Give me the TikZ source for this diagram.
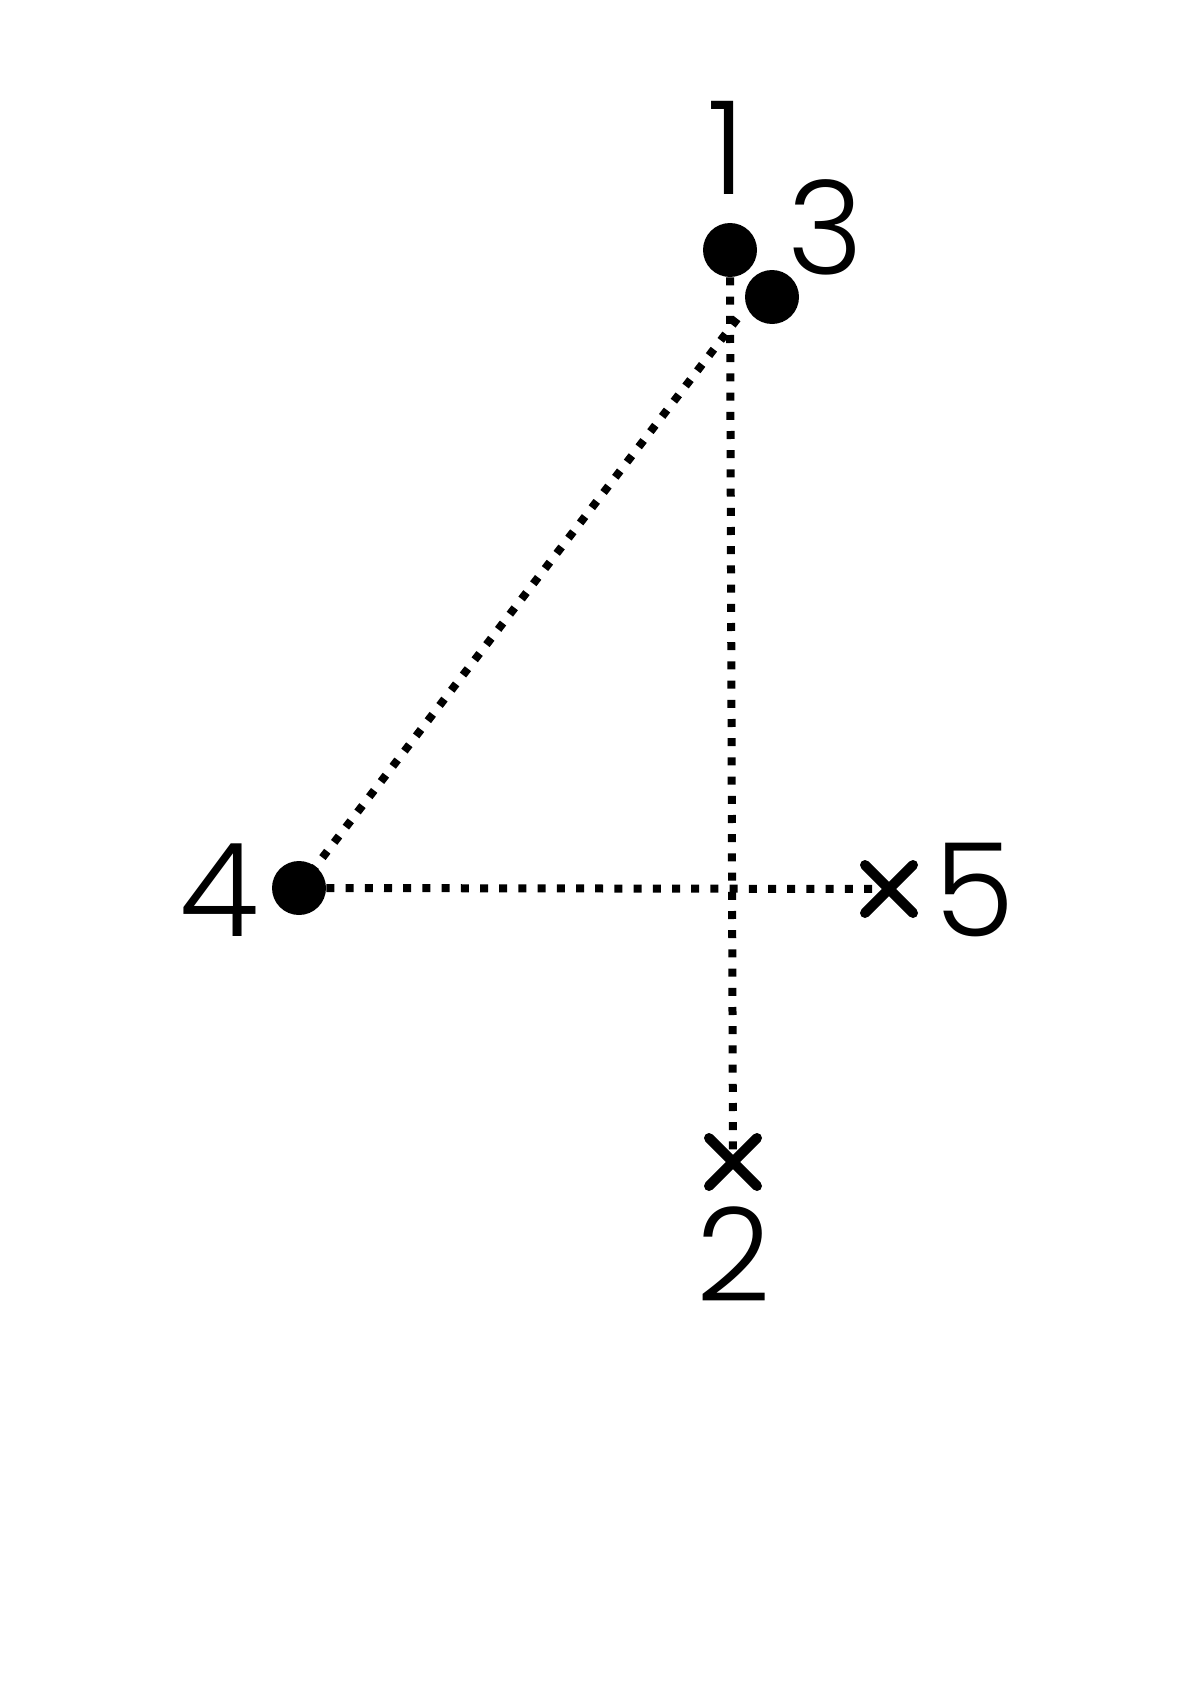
\documentclass[tikz,border=0pt]{standalone}
\usepackage{fontspec}
\setmainfont{Poppins Light}
\usetikzlibrary{shapes.misc}
\begin{document}
\begin{tikzpicture}[x=0.5pt,y=-0.5pt,
  dotmark/.style={circle,fill=black,draw=none,minimum size=27pt,inner sep=0pt},
  crossmark/.style={cross out,draw=black,line width=5pt,line cap=round,minimum size=19pt,inner sep=0pt},
  numlabel/.style={inner sep=0pt,font=\fontsize{65}{65}\selectfont},
  dotline/.style={line width=4pt,dash pattern=on 4pt off 5.6pt}]
\fill[white] (0,0) rectangle (1200,1696);
\node[dotmark] (p1) at (730,250) {};
\node[dotmark] (p3) at (772,297) {};
\node[dotmark] (p4) at (299,888) {};
\node[crossmark] (p5) at (889,889) {};
\node[crossmark] (p2) at (733,1162) {};
\coordinate (d) at (741,314);
\draw[dotline] (p1.south) -- (p2.center);
\draw[dotline] (p4.east) -- (p5.center);
\draw[dotline] (p4.center) -- (d);
\node[numlabel] (l1) at (726,148) {1};
\node[numlabel] (l3) at (826,227) {3};
\node[numlabel] (l4) at (219,890) {4};
\node[numlabel] (l5) at (975,890) {5};
\node[numlabel] (l2) at (734,1254) {2};
\end{tikzpicture}
\end{document}
